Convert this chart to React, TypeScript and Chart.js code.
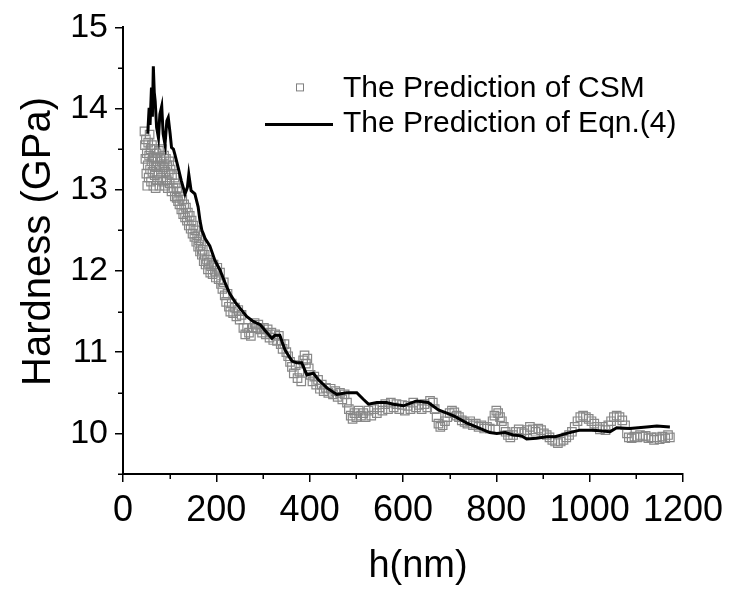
import React, { useEffect, useRef } from "react";
import { Chart, registerables } from "chart.js";

Chart.register(...registerables);

const FONT = "'Liberation Sans', Arial, Helvetica, sans-serif";

const xTitle = "h(nm)";
const yTitle = "Hardness (GPa)";
const csmLabel = "The Prediction of CSM";
const eqnLabel = "The Prediction of Eqn.(4)";

const xMajorStep = 200;
const yMajorTicks = [10, 11, 12, 13, 14, 15];
const xMinorTicks = [100, 300, 500, 700, 900, 1100];
const yMinorTicks = [9.5, 10.5, 11.5, 12.5, 13.5, 14.5];

// CSM prediction (h in nm, hardness in GPa)
const csmPoints: [number, number][] = [
  [46, 13.72], [47, 13.55], [48, 13.38], [49, 13.62], [50, 13.2], [51, 13.45], [52, 13.05], [53, 13.3], [54, 13.58], [55, 13.15],
  [56, 13.42], [57, 13.68], [58, 13.25], [59, 13.5], [60, 13.1], [61, 13.35], [62, 13.55], [63, 13.22], [64, 13.4], [65, 13.05],
  [66, 13.3], [67, 13.5], [68, 13.18], [69, 13.38], [70, 13.02], [71, 13.28], [72, 13.45], [73, 13.12], [74, 13.35], [76, 13.2],
  [77, 13.48], [78, 13.05], [79, 13.3], [80, 13.4], [82, 13.15], [83, 13.35], [84, 13.5], [86, 13.1], [87, 13.28], [88, 13.42],
  [90, 13.05], [91, 13.22], [92, 13.38], [94, 13.12], [95, 13.3], [96, 13.02], [98, 13.2], [99, 13.35],
  [100, 13.08], [102, 13.25], [104, 12.98], [105, 13.18], [107, 13.3], [108, 13.02], [110, 13.15], [111, 12.92], [113, 13.08], [115, 12.9],
  [116, 13.02], [118, 12.86], [120, 12.98], [121, 12.82], [123, 12.92], [125, 12.76], [127, 12.88], [129, 12.7], [131, 12.82], [133, 12.66],
  [135, 12.78], [137, 12.62], [139, 12.72], [141, 12.56], [143, 12.68], [145, 12.52], [147, 12.62], [149, 12.46], [151, 12.56], [153, 12.42],
  [155, 12.5], [157, 12.36], [159, 12.44], [161, 12.3], [163, 12.38], [165, 12.24], [167, 12.32], [169, 12.2], [171, 12.26], [173, 12.12],
  [175, 12.2], [177, 12.08], [180, 12.14], [182, 12.02], [184, 12.1], [187, 11.98], [189, 12.06], [192, 11.96], [194, 12.08], [197, 12.0],
  [199, 11.92], [202, 12.04], [205, 11.9], [208, 11.98], [210, 11.84], [213, 11.78], [216, 11.86], [218, 11.7], [221, 11.62], [224, 11.72],
  [227, 11.56], [230, 11.5], [233, 11.6], [236, 11.48], [240, 11.55], [243, 11.44], [247, 11.52], [250, 11.4], [254, 11.46], [258, 11.3],
  [262, 11.22], [266, 11.3], [270, 11.24], [274, 11.2], [278, 11.3], [282, 11.36], [286, 11.3], [290, 11.34], [294, 11.28], [298, 11.24],
  [302, 11.3], [306, 11.22], [310, 11.28], [314, 11.18], [318, 11.24], [322, 11.15], [326, 11.22], [330, 11.14], [334, 11.2], [338, 11.1],
  [342, 11.04], [346, 11.1], [350, 11.0], [354, 10.95], [358, 10.88], [362, 10.82], [366, 10.74], [370, 10.84], [374, 10.68], [378, 10.76],
  [382, 10.64], [386, 10.9], [389, 10.96], [392, 10.86], [395, 10.92], [398, 10.8], [402, 10.72], [406, 10.64], [410, 10.7], [414, 10.6],
  [418, 10.66], [422, 10.55], [426, 10.6], [430, 10.52], [435, 10.56], [440, 10.5], [445, 10.55], [450, 10.48], [455, 10.52], [460, 10.45],
  [465, 10.5], [470, 10.42], [475, 10.48], [480, 10.38], [484, 10.3], [488, 10.22], [492, 10.18], [496, 10.25], [500, 10.2], [505, 10.28],
  [510, 10.22], [515, 10.25], [520, 10.2], [526, 10.28], [532, 10.22], [538, 10.3], [544, 10.25], [550, 10.32], [556, 10.28], [562, 10.36],
  [568, 10.3], [574, 10.38], [580, 10.32], [586, 10.36], [592, 10.3], [598, 10.35], [604, 10.28], [610, 10.34], [616, 10.3], [622, 10.38],
  [628, 10.32], [634, 10.35], [640, 10.3], [646, 10.36], [652, 10.32], [658, 10.4], [664, 10.38], [668, 10.3], [672, 10.2], [676, 10.12],
  [680, 10.08], [685, 10.1], [690, 10.15], [695, 10.2], [700, 10.25], [705, 10.28], [710, 10.26], [715, 10.22], [720, 10.2], [726, 10.16],
  [732, 10.14], [738, 10.12], [744, 10.15], [750, 10.1], [756, 10.12], [762, 10.08], [768, 10.1], [774, 10.06], [780, 10.08], [786, 10.06],
  [792, 10.15], [796, 10.22], [800, 10.28], [804, 10.25], [808, 10.2], [812, 10.15], [816, 10.08], [820, 10.02], [825, 9.98], [830, 9.95],
  [836, 9.98], [842, 10.02], [848, 10.05], [854, 10.02], [860, 10.0], [866, 10.04], [872, 10.08], [878, 10.05], [884, 10.02], [890, 10.06],
  [896, 10.04], [902, 10.0], [908, 9.98], [914, 9.95], [920, 9.92], [926, 9.9], [932, 9.88], [938, 9.9], [944, 9.92], [950, 9.95],
  [956, 9.98], [962, 10.02], [968, 10.08], [974, 10.15], [980, 10.2], [986, 10.22], [992, 10.2], [998, 10.18], [1004, 10.15], [1010, 10.12],
  [1016, 10.08], [1022, 10.05], [1028, 10.08], [1034, 10.04], [1040, 10.1], [1046, 10.15], [1052, 10.2], [1058, 10.22], [1064, 10.2], [1070, 10.16],
  [1076, 10.1], [1080, 10.0], [1084, 9.95], [1090, 9.94], [1096, 9.96], [1102, 9.95], [1108, 9.98], [1114, 9.96], [1120, 9.97], [1126, 9.94],
  [1132, 9.95], [1138, 9.92], [1144, 9.95], [1150, 9.93], [1156, 9.96], [1162, 9.94], [1168, 9.98], [1172, 9.95],
];

// Eqn.(4) prediction
const eqnPoints: [number, number][] = [
  [53, 13.69], [56, 14.01], [58, 13.8], [61, 14.26], [63, 13.9], [65, 14.52], [67, 14.2], [69, 14.09], [72, 13.77], [76, 13.64],
  [79, 13.93], [83, 14.03], [86, 13.69], [90, 13.56], [94, 13.85], [97, 13.89], [101, 13.69], [104, 13.52], [108, 13.5], [111, 13.44],
  [118, 13.28], [125, 13.11], [133, 12.95], [138, 13.03], [141, 13.19], [146, 12.99], [154, 12.95], [161, 12.79], [165, 12.62], [169, 12.5],
  [172, 12.46], [176, 12.4], [186, 12.31], [197, 12.13], [208, 12.01], [219, 11.85], [229, 11.72], [240, 11.62], [251, 11.54], [265, 11.44],
  [279, 11.38], [294, 11.34], [304, 11.27], [319, 11.17], [326, 11.21], [336, 11.21], [347, 11.03], [362, 10.89], [372, 10.87], [383, 10.87],
  [394, 10.72], [408, 10.74], [419, 10.66], [437, 10.56], [458, 10.48], [479, 10.5], [501, 10.5], [515, 10.42], [526, 10.36], [544, 10.38],
  [565, 10.38], [579, 10.36], [601, 10.34], [629, 10.4], [654, 10.38], [676, 10.29], [694, 10.25], [711, 10.21], [736, 10.13], [761, 10.07],
  [786, 10.01], [801, 10.0], [819, 10.01], [836, 9.98], [854, 9.97], [865, 9.93], [886, 9.94], [908, 9.96], [926, 9.96], [951, 10.0],
  [979, 10.04], [1008, 10.04], [1044, 10.02], [1058, 10.07], [1086, 10.06], [1122, 10.08], [1144, 10.09], [1172, 10.08],
];

const extrasPlugin = {
  id: "extras",
  afterDraw(chart: any) {
    const { ctx, chartArea } = chart;
    const xs = chart.scales.x;
    const ys = chart.scales.y;
    ctx.save();
    // minor ticks
    ctx.strokeStyle = "#000";
    ctx.lineWidth = 1.5;
    ctx.beginPath();
    for (const v of xMinorTicks) {
      const px = Math.round(xs.getPixelForValue(v)) + 0.25;
      ctx.moveTo(px, chartArea.bottom);
      ctx.lineTo(px, chartArea.bottom + 5);
    }
    for (const v of yMinorTicks) {
      const py = Math.round(ys.getPixelForValue(v)) + 0.25;
      ctx.moveTo(chartArea.left, py);
      ctx.lineTo(chartArea.left - 5, py);
    }
    ctx.stroke();

    // axis titles
    ctx.fillStyle = "#000";
    ctx.font = `38px ${FONT}`;
    ctx.textAlign = "center";
    ctx.textBaseline = "alphabetic";
    ctx.fillText(xTitle, chartArea.left + 295, chartArea.bottom + 103);

    ctx.save();
    ctx.translate(50, chartArea.top + 214);
    ctx.rotate(-Math.PI / 2);
    ctx.font = `40px ${FONT}`;
    ctx.textAlign = "center";
    ctx.textBaseline = "alphabetic";
    ctx.fillText(yTitle, 0, 0);
    ctx.restore();

    // legend
    const lx = chartArea.left;
    const ty = chartArea.top;
    ctx.font = `30px ${FONT}`;
    ctx.fillStyle = "#000";
    ctx.textBaseline = "middle";
    ctx.textAlign = "left";
    ctx.strokeStyle = "#808080";
    ctx.lineWidth = 1;
    ctx.strokeRect(lx + 173.5, ty + 56.5, 7, 7);
    ctx.fillText(csmLabel, lx + 220, ty + 61);
    ctx.strokeStyle = "#000";
    ctx.lineWidth = 3;
    ctx.beginPath();
    ctx.moveTo(lx + 142, ty + 97);
    ctx.lineTo(lx + 210, ty + 97);
    ctx.stroke();
    ctx.fillText(eqnLabel, lx + 220, ty + 96);
    ctx.restore();
  },
};

export default function App() {
  const canvasRef = useRef<HTMLCanvasElement | null>(null);

  useEffect(() => {
    document.body.style.margin = "0";
    const canvas = canvasRef.current;
    if (!canvas) return;
    const chart = new Chart(canvas, {
      type: "scatter",
      data: {
        datasets: [
          {
            type: "line",
            label: eqnLabel,
            data: eqnPoints.map(([x, y]) => ({ x, y })),
            borderColor: "#000",
            borderWidth: 3,
            pointRadius: 0,
            fill: false,
            tension: 0,
            order: 0,
          } as any,
          {
            type: "scatter",
            label: csmLabel,
            data: csmPoints.map(([x, y]) => ({ x, y })),
            pointStyle: "rect",
            pointRadius: 6,
            pointBorderColor: "#888888",
            pointBackgroundColor: "rgba(0,0,0,0)",
            pointBorderWidth: 1.2,
            order: 1,
          } as any,
        ],
      },
      options: {
        responsive: false,
        animation: false,
        devicePixelRatio: 1,
        layout: { padding: { top: 26, right: 47, left: 0, bottom: 0 } },
        plugins: {
          legend: { display: false },
          tooltip: { enabled: false },
        },
        scales: {
          x: {
            type: "linear",
            min: 0,
            max: 1200,
            afterFit: (s: any) => {
              s.height = 120;
            },
            ticks: {
              stepSize: xMajorStep,
              color: "#000",
              font: { family: FONT, size: 36 },
              padding: 7,
              maxRotation: 0,
              autoSkip: false,
              callback: (v: any) => String(v),
            },
            grid: {
              drawOnChartArea: false,
              color: "#000",
              lineWidth: 1.5,
              tickLength: 8,
            },
            border: { display: true, color: "#000", width: 2 },
            title: { display: false },
          },
          y: {
            type: "linear",
            min: 9.5,
            max: 15,
            afterFit: (s: any) => {
              s.width = 123;
            },
            afterBuildTicks: (s: any) => {
              s.ticks = yMajorTicks.map((v) => ({ value: v }));
            },
            ticks: {
              color: "#000",
              font: { family: FONT, size: 34 },
              padding: 7,
              autoSkip: false,
              callback: (v: any) => String(v),
            },
            grid: {
              drawOnChartArea: false,
              color: "#000",
              lineWidth: 1.5,
              tickLength: 8,
            },
            border: { display: true, color: "#000", width: 2 },
            title: { display: false },
          },
        },
      },
      plugins: [extrasPlugin],
    } as any);
    return () => chart.destroy();
  }, []);

  return (
    <div style={{ width: 730, height: 594, background: "#fff" }}>
      <canvas ref={canvasRef} width={730} height={594} />
    </div>
  );
}
